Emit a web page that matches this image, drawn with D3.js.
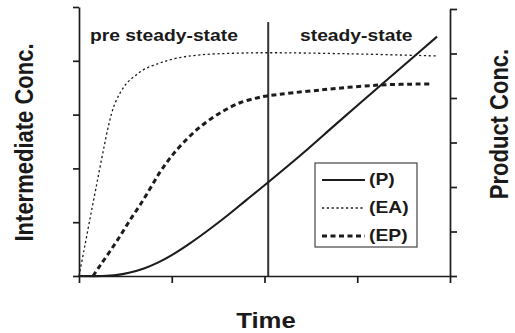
<!DOCTYPE html>
<html>
<head>
<meta charset="utf-8">
<script src="https://cdn.jsdelivr.net/npm/d3@7"></script>
<style>
  html, body { margin: 0; padding: 0; background: #fff; }
  svg { display: block; }
  text { font-family: "Liberation Sans", Arial, sans-serif; font-weight: bold; fill: #1a1a1a; }
</style>
</head>
<body>
<svg id="chart" width="515" height="333"></svg>
<script>
// Time axis and the two concentration axes (ticks only, no numbers)
const timeTicks = [0, 1, 2, 3, 4];
const intermediateTicks = [0, 1, 2, 3, 4, 5];
const productTicks = [0, 1, 2, 3, 4, 5, 6];

// Boundary between the pre steady-state and steady-state phases
const phaseBoundary = 2.04;
const boundaryTop = 4.72;

// Product (P), right axis
const pTime  = [0, 0.25, 0.40, 0.55, 0.70, 0.85, 1.00, 1.20, 1.40, 1.60, 1.80, 2.03, 2.42, 2.78, 3.25, 3.60, 3.86];
const pConc  = [0, 0, 0.02, 0.08, 0.17, 0.30, 0.47, 0.74, 1.04, 1.36, 1.70, 2.09, 2.77, 3.43, 4.28, 4.91, 5.38];

// Intermediate EA, left axis
const eaTime = [0, 0.054, 0.108, 0.162, 0.216, 0.270, 0.323, 0.377, 0.442, 0.518, 0.604, 0.712, 0.873, 1.057, 1.305, 1.66, 2.04, 2.92, 3.86];
const eaConc = [0, 0.48, 0.97, 1.45, 1.93, 2.40, 2.83, 3.16, 3.40, 3.59, 3.72, 3.85, 3.96, 4.05, 4.11, 4.14, 4.15, 4.13, 4.09];

// Intermediate EP, left axis
const epTime = [0.151, 0.226, 0.334, 0.442, 0.550, 0.658, 0.765, 0.873, 0.981, 1.121, 1.305, 1.520, 1.736, 1.919, 2.038, 2.620, 3.245, 3.806];
const epConc = [0, 0.19, 0.46, 0.74, 1.04, 1.32, 1.62, 1.93, 2.19, 2.47, 2.77, 3.03, 3.22, 3.31, 3.35, 3.46, 3.55, 3.57];

const legendLabels = ["(P)", "(EA)", "(EP)"];
const phaseLabels = ["pre steady-state", "steady-state"];

const svg = d3.select("#chart");
const ink = "#1c1c1c";
const stretch = 1.17;

const x = d3.scaleLinear().domain([0, 4]).range([79, 450]);
const yL = d3.scaleLinear().domain([0, 5]).range([276, 7]);
const yR = d3.scaleLinear().domain([0, 6]).range([276, 9]);

function styleAxis(g) {
  g.selectAll("path, line").attr("stroke", ink).attr("stroke-width", 1.7);
  g.selectAll("text").remove();
}

svg.append("g").attr("transform", `translate(0,${yL(0)})`)
  .call(d3.axisBottom(x).tickValues(timeTicks).tickSize(7).tickSizeOuter(0).tickFormat(""))
  .call(styleAxis);
svg.append("g").attr("transform", `translate(${x(0)},0)`)
  .call(d3.axisLeft(yL).tickValues(intermediateTicks).tickSize(6).tickSizeOuter(0).tickFormat(""))
  .call(styleAxis);
svg.append("g").attr("transform", `translate(${x(4)},0)`)
  .call(d3.axisRight(yR).tickValues(productTicks).tickSize(7).tickSizeOuter(0).tickFormat(""))
  .call(styleAxis);

// Phase divider
svg.append("line")
  .attr("x1", x(phaseBoundary)).attr("x2", x(phaseBoundary))
  .attr("y1", yL(boundaryTop)).attr("y2", yL(0))
  .attr("stroke", "#333").attr("stroke-width", 2);

const styles = {
  P:  { width: 2.1, dash: null },
  EA: { width: 1.3, dash: "2.2,2.6" },
  EP: { width: 3.0, dash: "5,3.5" }
};

function drawSeries(ts, vs, yScale, st) {
  const pts = ts.map((t, i) => [t, vs[i]]);
  const line = d3.line().x(d => x(d[0])).y(d => yScale(d[1])).curve(d3.curveCatmullRom.alpha(0.5));
  const p = svg.append("path").datum(pts).attr("d", line)
    .attr("fill", "none").attr("stroke", ink).attr("stroke-width", st.width);
  if (st.dash) p.attr("stroke-dasharray", st.dash);
}

drawSeries(eaTime, eaConc, yL, styles.EA);
drawSeries(epTime, epConc, yL, styles.EP);
drawSeries(pTime, pConc, yR, styles.P);

// Horizontal labels, slightly widened
function hText(txt, tx, ty, size, anchor) {
  svg.append("g").attr("transform", `translate(${tx},${ty}) scale(${stretch},1)`)
    .append("text").attr("text-anchor", anchor || "start")
    .style("font-size", size + "px").text(txt);
}
hText(phaseLabels[0], 90, 41, 16.5);
hText(phaseLabels[1], 300, 41, 16.5);

// Legend
const lg = svg.append("g");
lg.append("rect").attr("x", 315).attr("y", 163).attr("width", 102).attr("height", 84)
  .attr("fill", "#fff").attr("stroke", "#444").attr("stroke-width", 1.2);
const legendStyles = [styles.P, styles.EA, styles.EP];
legendLabels.forEach((lab, i) => {
  const by = 185 + i * 28;
  const st = legendStyles[i];
  const l = lg.append("line").attr("x1", 322).attr("x2", 365)
    .attr("y1", by - 5).attr("y2", by - 5)
    .attr("stroke", ink).attr("stroke-width", st.width);
  if (st.dash) l.attr("stroke-dasharray", st.dash);
  hText(lab, 369, by, 16.5);
});

// Axis titles
hText("Time", 266, 328, 22, "middle");
svg.append("g").attr("transform", `translate(33,142.5) scale(${stretch},1) rotate(-90)`)
  .append("text").attr("text-anchor", "middle").style("font-size", "22px").text("Intermediate Conc.");
svg.append("g").attr("transform", `translate(508,124) scale(${stretch},1) rotate(-90)`)
  .append("text").attr("text-anchor", "middle").style("font-size", "22px").text("Product Conc.");
</script>
</body>
</html>
